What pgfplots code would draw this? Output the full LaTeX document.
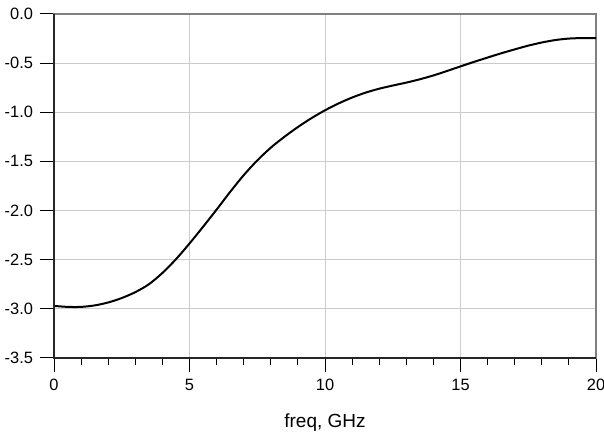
\documentclass[border=0pt]{standalone}
\usepackage{fontspec}
\setmainfont{Liberation Sans}
\usepackage{pgfplots}
\pgfplotsset{compat=1.18}
\begin{document}
\begin{tikzpicture}
\begin{axis}[name=ax, scale only axis, width=271pt, height=172pt,
  xmin=0, xmax=20, ymin=-3.5, ymax=0,
  xtick={0,5,10,15,20}, minor x tick num=4,
  ytick={-3.5,-3.0,-2.5,-2.0,-1.5,-1.0,-0.5,0},
  xmajorgrids, ymajorgrids,
  grid style={line width=0.5pt, color=black!20},
  tick align=outside, major tick length=7pt, minor tick length=3.5pt,
  tick style={black, line width=0.5pt},
  xtick pos=bottom, ytick pos=left,
  axis line style={black!50, line width=0.6pt},
  /pgf/number format/assume math mode=true,
  yticklabel style={/pgf/number format/.cd, fixed, fixed zerofill, precision=1},
  ticklabel style={font=\fontsize{8.2}{9}\selectfont},
  xlabel={freq, GHz},
  xlabel style={yshift=-4.5pt},
  label style={font=\fontsize{9.5}{11}\selectfont},
]
\addplot[black, line width=1pt, smooth] coordinates {
(0,-2.97) (0.5,-2.98) (1,-2.98) (1.5,-2.965) (2,-2.935) (2.5,-2.89)
(3,-2.83) (3.5,-2.75) (4,-2.635) (4.5,-2.495) (5,-2.335) (5.5,-2.165)
(6,-1.99) (6.5,-1.81) (7,-1.64) (7.5,-1.49) (8,-1.36) (8.5,-1.25)
(9,-1.15) (9.5,-1.06) (10,-0.98) (10.5,-0.91) (11,-0.85) (11.5,-0.80)
(12,-0.76) (12.5,-0.728) (13,-0.698) (13.5,-0.664) (14,-0.625) (14.5,-0.58)
(15,-0.533) (15.5,-0.487) (16,-0.443) (16.5,-0.40) (17,-0.36) (17.5,-0.322)
(18,-0.29) (18.5,-0.265) (19,-0.25) (19.5,-0.245) (20,-0.245)
};
\end{axis}
\draw[black!85, line width=0.6pt] (ax.north west) -- (ax.south west) -- (ax.south east);
\pgfresetboundingbox
\path[use as bounding box] ([xshift=-27pt,yshift=-37.5pt]ax.south west) rectangle ([xshift=4pt,yshift=7pt]ax.north east);
\end{tikzpicture}
\end{document}
